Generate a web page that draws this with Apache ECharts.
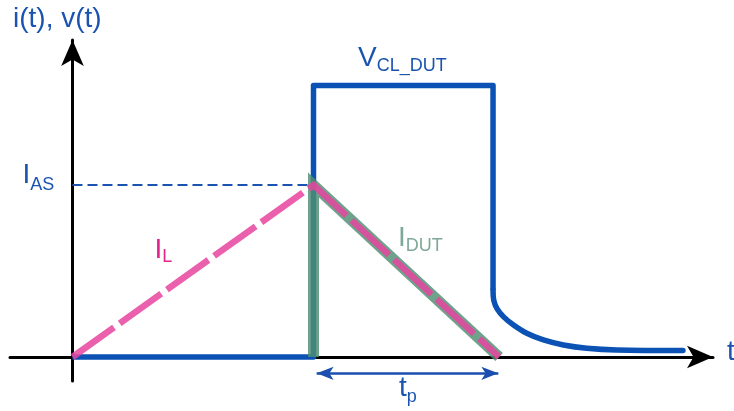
<!DOCTYPE html>
<html><head><meta charset="utf-8">
<script src="https://cdn.jsdelivr.net/npm/echarts@6/dist/echarts.min.js"></script>
<style>html,body{margin:0;padding:0;background:#fff}#c{width:734px;height:411px}</style>
</head><body><div id="c"></div>
<script>
// Schematic UIS waveform: time in arbitrary units, amplitude normalised so I_AS = 10
const tSwitch = 10;      // avalanche start
const tEnd = 17.7;       // current reaches zero
const iAS = 10;          // peak avalanche current
const vCL = 15.78;       // clamp voltage level

// V(t) - drain voltage: rectangular clamp part
const vTime  = [0, 10, 10, 17.45, 17.45];
const vValue = [0, 0, 15.78, 15.78, 3.9];
// V(t) - decay tail
const tailTime  = [17.45, 17.48, 17.62, 17.90, 18.30, 18.85, 19.54, 20.37, 21.34, 22.58, 25.33];
const tailValue = [3.9, 3.3, 2.80, 2.32, 1.86, 1.38, 0.99, 0.70, 0.51, 0.41, 0.38];

// I_L - inductor current
const iLTime  = [0, 10, 17.7];
const iLValue = [0, 10, 0];

// I_DUT - device current
const iDutTime  = [10, 10, 17.7];
const iDutValue = [0, 10, 0];

// I_AS reference level
const iasTime  = [0, 10];
const iasValue = [10, 10];

// t_p dimension arrow
const tpTime = [10.13, 17.67];
const tpLevel = -0.95;

const zip = (a, b) => a.map((x, i) => [x, b[i]]);

const BLUE = '#0b52b4';
const TXT = '#1b54b0';
const FONT = 'Liberation Sans, Arial, sans-serif';

function lbl(x, y, main, sub, color, pad) {
  const rich = {
    m: {fontSize: 28, lineHeight: 40, fontFamily: FONT, color: color},
    s: {fontSize: 18, lineHeight: 18, fontFamily: FONT, color: color, padding: [pad, 0, 0, 0]}
  };
  return {
    type: 'text', x: x, y: y, z: 100,
    style: {text: sub ? '{m|' + main + '}{s|' + sub + '}' : '{m|' + main + '}', rich: rich,
            verticalAlign: 'top', textVerticalAlign: 'top', align: 'left', fill: color}
  };
}

const chart = echarts.init(document.getElementById('c'), null, {renderer: 'canvas'});
chart.setOption({
  animation: false,
  backgroundColor: '#fff',
  grid: {left: 10, right: 21, top: 40, bottom: 30, containLabel: false},
  xAxis: {
    type: 'value', min: -2.593, max: 26.577,
    axisLine: {show: true, onZero: true, symbol: ['none', 'arrow'], symbolSize: [17, 26],
               lineStyle: {color: '#000', width: 3}},
    axisTick: {show: false}, axisLabel: {show: false}, splitLine: {show: false}
  },
  yAxis: {
    type: 'value', min: -1.395, max: 18.43,
    axisLine: {show: true, onZero: true, symbol: ['none', 'arrow'], symbolSize: [17, 26],
               lineStyle: {color: '#000', width: 3}},
    axisTick: {show: false}, axisLabel: {show: false}, splitLine: {show: false}
  },
  series: [
    {
      name: 'IAS', type: 'line', z: 2, symbol: 'none', silent: true,
      data: zip(iasTime, iasValue),
      lineStyle: {color: '#1b54b0', width: 2, type: [10, 5]}
    },
    {
      name: 'V', type: 'line', z: 3, symbol: 'none', silent: true,
      data: zip(vTime, vValue),
      lineStyle: {color: BLUE, width: 5.5, join: 'round', cap: 'butt'},
      markLine: {
        silent: true, symbol: ['arrow', 'arrow'], symbolSize: [10, 17],
        label: {show: false},
        lineStyle: {color: '#1a4fb0', width: 2.5, type: 'solid'},
        data: [[{coord: [tpTime[0], tpLevel]}, {coord: [tpTime[1], tpLevel]}]]
      }
    },
    {
      name: 'Vtail', type: 'line', z: 3, symbol: 'none', silent: true, smooth: 0.35,
      data: zip(tailTime, tailValue),
      lineStyle: {color: BLUE, width: 5.5, join: 'round', cap: 'round'}
    },
    {
      name: 'IDUT', type: 'line', z: 4, symbol: 'none', silent: true,
      data: zip(iDutTime, iDutValue),
      lineStyle: {color: '#4e8f72', width: 11, opacity: 0.82, join: 'miter', cap: 'butt'}
    },
    {
      name: 'IL', type: 'line', z: 5, symbol: 'none', silent: true,
      data: zip(iLTime, iLValue),
      lineStyle: {color: '#e8449f', width: 6.5, opacity: 0.85, type: [51, 7], join: 'miter', cap: 'butt'}
    }
  ],
  graphic: [
    lbl(13, -0.4, 'i(t), v(t)', null, TXT, 0),
    lbl(22.4, 155.3, 'I', 'AS', TXT, 19),
    lbl(358, 38.3, 'V', 'CL_DUT', TXT, 15),
    lbl(154.4, 230.3, 'I', 'L', '#e4238d', 13),
    lbl(398, 218.3, 'I', 'DUT', '#7fa898', 15),
    lbl(399, 368.3, 't', 'p', TXT, 17),
    lbl(727, 332, 't', null, TXT, 0)
  ]
});
</script>
</body></html>
